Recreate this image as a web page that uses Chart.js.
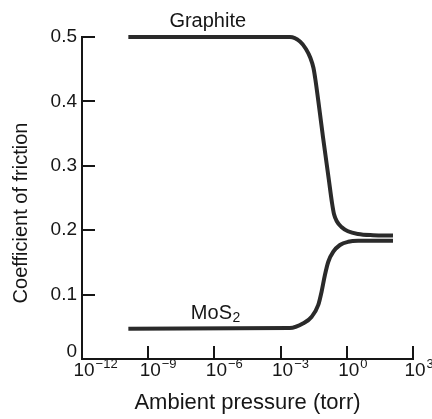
<!DOCTYPE html>
<html>
<head>
<meta charset="utf-8">
<script src="https://cdn.jsdelivr.net/npm/chart.js@4/dist/chart.umd.min.js"></script>
<style>
    html, body { margin: 0; padding: 0; background: #fff; }
    #wrap { width: 432px; height: 419px; position: relative; }
</style>
</head>
<body>
<div id="wrap"><canvas id="frictionChart"></canvas></div>
<script>
// values
const graphitePressure = [1.26e-10, 2.66e-3, 7.55e-3, 1.41e-2, 2.25e-2, 3.09e-2, 3.8e-2, 8.3e-2, 0.154, 0.214, 0.262, 0.358, 0.573, 1.13, 3.2, 15.3, 124];
const graphiteFriction = [0.5, 0.5, 0.493, 0.4814, 0.4674, 0.4519, 0.4332, 0.3452, 0.278, 0.2422, 0.2252, 0.2135, 0.205, 0.1983, 0.1941, 0.1922, 0.1916];

const mos2Pressure = [1.26e-10, 2.6e-3, 1.07e-2, 2.57e-2, 5.1e-2, 7.2e-2, 0.102, 0.145, 0.245, 0.49, 1.16, 3.3, 124];
const mos2Friction = [0.047, 0.048, 0.0554, 0.0657, 0.0839, 0.1045, 0.1304, 0.151, 0.1666, 0.177, 0.182, 0.1835, 0.1837];

const xTickValues = [1e-12, 1e-9, 1e-6, 1e-3, 1, 1e3];
const xTickExponents = ['\u221212', '\u22129', '\u22126', '\u22123', '0', '3'];
const yTickValues = [0, 0.1, 0.2, 0.3, 0.4, 0.5];
const yTickLabels = ['0', '0.1', '0.2', '0.3', '0.4', '0.5'];

const seriesLabels = ['Graphite', 'MoS'];
const seriesLabelPos = [{ x: 5e-7, y: 0.524 }, { x: 1.1e-6, y: 0.071 }];
const yTitle = 'Coefficient of friction';

const FONT = "'Liberation Sans', Arial, sans-serif";
const INK = '#161616';

function toPoints(xs, ys) {
    return xs.map(function (x, i) { return { x: x, y: ys[i] }; });
}

const axisDecor = {
    id: 'axisDecor',
    afterDraw: function (chart) {
        const ctx = chart.ctx;
        const xs = chart.scales.x;
        const ys = chart.scales.y;
        const area = chart.chartArea;
        ctx.save();
        ctx.strokeStyle = INK;
        ctx.fillStyle = INK;
        ctx.lineWidth = 2;

        // inward tick marks
        xs.ticks.forEach(function (t, i) {
            if (i === 0) return;
            const px = Math.round(xs.getPixelForValue(t.value));
            ctx.beginPath();
            ctx.moveTo(px, area.bottom);
            ctx.lineTo(px, area.bottom - 13);
            ctx.stroke();
        });
        ys.ticks.forEach(function (t, i) {
            if (i === 0) return;
            const py = Math.round(ys.getPixelForValue(t.value));
            ctx.beginPath();
            ctx.moveTo(area.left, py);
            ctx.lineTo(area.left + 13, py);
            ctx.stroke();
        });

        // y tick labels
        ctx.font = '19px ' + FONT;
        ctx.textAlign = 'right';
        ctx.textBaseline = 'middle';
        ys.ticks.forEach(function (t, i) {
            let py = ys.getPixelForValue(t.value);
            if (i === 0) py -= 7;
            ctx.fillText(yTickLabels[i], area.left - 5, py);
        });

        // x tick labels: 10 with superscript exponent
        xs.ticks.forEach(function (t, i) {
            const px = xs.getPixelForValue(t.value);
            ctx.font = '19px ' + FONT;
            ctx.textAlign = 'center';
            ctx.textBaseline = 'middle';
            ctx.fillText('10', px + 2, area.bottom + 12);
            const w = ctx.measureText('10').width;
            ctx.font = '13px ' + FONT;
            ctx.textAlign = 'left';
            ctx.fillText(xTickExponents[i], px + 2 + w / 2 + 1, area.bottom + 5);
        });

        // y axis title
        ctx.save();
        ctx.translate(21, 213);
        ctx.rotate(-Math.PI / 2);
        ctx.font = '20px ' + FONT;
        ctx.textAlign = 'center';
        ctx.textBaseline = 'middle';
        ctx.fillText(yTitle, 0, 0);
        ctx.restore();

        // curve labels
        ctx.textBaseline = 'middle';
        seriesLabels.forEach(function (txt, i) {
            const px = xs.getPixelForValue(seriesLabelPos[i].x);
            const py = ys.getPixelForValue(seriesLabelPos[i].y);
            ctx.font = '20px ' + FONT;
            if (i === 1) {
                const w = ctx.measureText(txt).width;
                ctx.font = '14px ' + FONT;
                const w2 = ctx.measureText('2').width;
                const left = px - (w + w2) / 2;
                ctx.font = '20px ' + FONT;
                ctx.textAlign = 'left';
                ctx.fillText(txt, left, py);
                ctx.font = '14px ' + FONT;
                ctx.fillText('2', left + w + 0.5, py + 5);
            } else {
                ctx.textAlign = 'center';
                ctx.fillText(txt, px, py);
            }
        });
        ctx.restore();
    }
};

const canvas = document.getElementById('frictionChart');
new Chart(canvas.getContext('2d'), {
    type: 'line',
    data: {
        datasets: [{
            label: 'Graphite',
            data: toPoints(graphitePressure, graphiteFriction),
            borderColor: '#2a2a2a',
            borderWidth: 4,
            pointRadius: 0,
            cubicInterpolationMode: 'monotone',
            clip: false
        }, {
            label: 'MoS2',
            data: toPoints(mos2Pressure, mos2Friction),
            borderColor: '#2a2a2a',
            borderWidth: 4,
            pointRadius: 0,
            cubicInterpolationMode: 'monotone',
            clip: false
        }]
    },
    options: {
        responsive: true,
        maintainAspectRatio: false,
        animation: false,
        layout: { padding: { top: 37, right: 19, left: 0, bottom: 0 } },
        plugins: {
            legend: { display: false },
            tooltip: { enabled: false }
        },
        scales: {
            x: {
                type: 'logarithmic',
                min: 1e-12,
                max: 1e3,
                afterBuildTicks: function (scale) {
                    scale.ticks = xTickValues.map(function (v) { return { value: v }; });
                },
                afterFit: function (scale) { scale.height = 60; },
                ticks: { display: false },
                grid: { display: false, drawTicks: false },
                border: { display: true, color: INK, width: 2 },
                title: {
                    display: true,
                    text: 'Ambient pressure (torr)',
                    color: INK,
                    font: { family: FONT, size: 22 },
                    padding: { top: 0, bottom: 3 }
                }
            },
            y: {
                min: 0,
                max: 0.5,
                afterBuildTicks: function (scale) {
                    scale.ticks = yTickValues.map(function (v) { return { value: v }; });
                },
                afterFit: function (scale) { scale.width = 82; },
                ticks: { display: false },
                grid: { display: false, drawTicks: false },
                border: { display: true, color: INK, width: 2 },
                title: { display: false }
            }
        }
    },
    plugins: [axisDecor]
});
</script>
</body>
</html>
